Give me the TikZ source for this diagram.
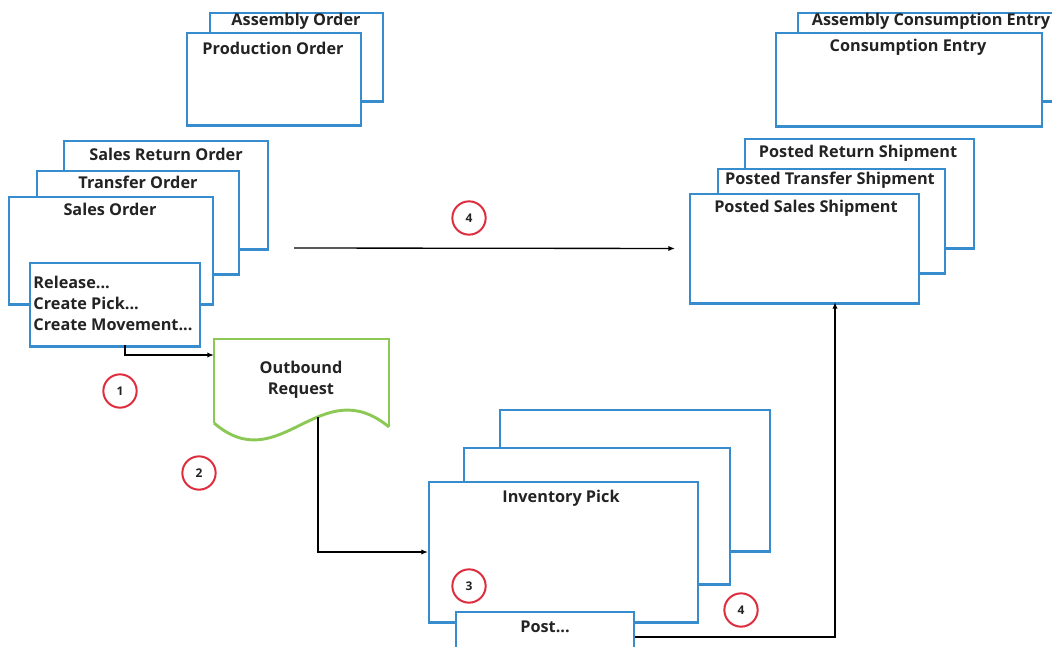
\documentclass[tikz,border=0pt]{standalone}
\usepackage{fontspec}
\setmainfont{Open Sans}
\usetikzlibrary{arrows.meta}

\definecolor{docblue}{RGB}{55,140,205}
\definecolor{reqgreen}{RGB}{140,200,85}
\definecolor{stepred}{RGB}{222,45,60}
\definecolor{txtgray}{RGB}{35,35,35}

\tikzset{every picture/.style={line width=0.75pt}}
\tikzset{
  docbox/.style 2 args={draw=docblue, line width=1.5pt, fill=white, inner sep=0pt,
    anchor=north west, minimum width=#1*0.75pt, minimum height=#2*0.75pt,
    append after command={(\tikzlastnode.south west) edge[draw=docblue, line width=2.2pt] (\tikzlastnode.south east)}},
  ttl/.style={font=\bfseries\fontsize{12.2}{15.5}\selectfont, text=txtgray, inner sep=0pt},
  badge/.style={circle, draw=stepred, line width=1.5pt, fill=white, minimum size=25pt,
    inner sep=0pt, font=\bfseries\fontsize{9}{10}\selectfont, text=txtgray},
  conn/.style={draw=black, line width=1pt, -{Latex[length=5pt, width=4pt]}}
}

\begin{document}
\begin{tikzpicture}[x=0.75pt,y=0.75pt,yscale=-1,xscale=1]
\useasboundingbox (0,0) rectangle (1052,646);
\clip (0,0) rectangle (1052,646);

%Orders
\node (asm) [docbox={173}{88}] at (209,12) {};
\node (prod) [docbox={174}{92}] at (186,32) {};
\node (sro) [docbox={204}{108}] at (63,140) {};
\node (tro) [docbox={202}{103}] at (36,170) {};
\node (so) [docbox={204}{107}] at (8,196) {};
\node (rel) [docbox={170}{83}] at (29,262) {};

%Entries and shipments
\node (ace) [docbox={268}{88}] at (797,12) {};
\node (ce) [docbox={266}{93}] at (775,32) {};
\node (prs) [docbox={229}{109}] at (744,138) {};
\node (pts) [docbox={227}{104}] at (717,168) {};
\node (pss) [docbox={229}{109}] at (689,193) {};

%Inventory pick
\node (ip3) [docbox={270}{141}] at (499,409) {};
\node (ip2) [docbox={266}{136}] at (463,447) {};
\node (ip1) [docbox={269}{140}] at (428,481) {};
\node (post) [docbox={178}{50}] at (455,611) {};

%Outbound request
\draw [draw=reqgreen, line width=1.5pt] (214,423) -- (214,339) -- (389,339) -- (389,427) ;
\draw [draw=reqgreen, line width=2.2pt] (389,427) .. controls (320,370) and (280,480) .. (214,423) ;

%Titles
\draw (296,21) node (asm-t) [ttl] {Assembly Order};
\draw (273,48) node (prod-t) [ttl] {Production Order};
\draw (166,154) node (sro-t) [ttl] {Sales Return Order};
\draw (138,182) node (tro-t) [ttl] {Transfer Order};
\draw (110,209) node (so-t) [ttl] {Sales Order};
\draw (33,276) node (rel-t) [ttl, anchor=north west, align=left] {Release...\\Create Pick...\\Create Movement...};
\draw (931,21) node (ace-t) [ttl] {Assembly Consumption Entry};
\draw (908,47) node (ce-t) [ttl] {Consumption Entry};
\draw (858,153) node (prs-t) [ttl] {Posted Return Shipment};
\draw (830,180) node (pts-t) [ttl] {Posted Transfer Shipment};
\draw (806,208) node (pss-t) [ttl] {Posted Sales Shipment};
\draw (561,498) node (ip1-t) [ttl] {Inventory Pick};
\draw (545,627) node (post-t) [ttl] {Post...};
\draw (301,380) node (req) [ttl, align=center] {Outbound\\Request};

%Connectors
\coordinate (rel-out) at (125,345);
\coordinate (req-in) at (214,355);
\coordinate (req-out) at (318,417);
\coordinate (top-in) at (294,248);
\coordinate (pss-in) at (835,302);
\draw [conn] (rel-out) |- (req-in);
\draw [conn] (req-out) |- (ip1.west);
\draw [conn, shorten >=10.5pt] (top-in) -- (pss.west);
\draw [conn] (post.east) -| (pss-in);

%Steps
\node (s1) [badge] at (120,391) {1};
\node (s2) [badge] at (199,473) {2};
\node (s3) [badge] at (469,586) {3};
\node (s4a) [badge] at (469,218) {4};
\node (s4b) [badge] at (741,610) {4};

\end{tikzpicture}
\end{document}
